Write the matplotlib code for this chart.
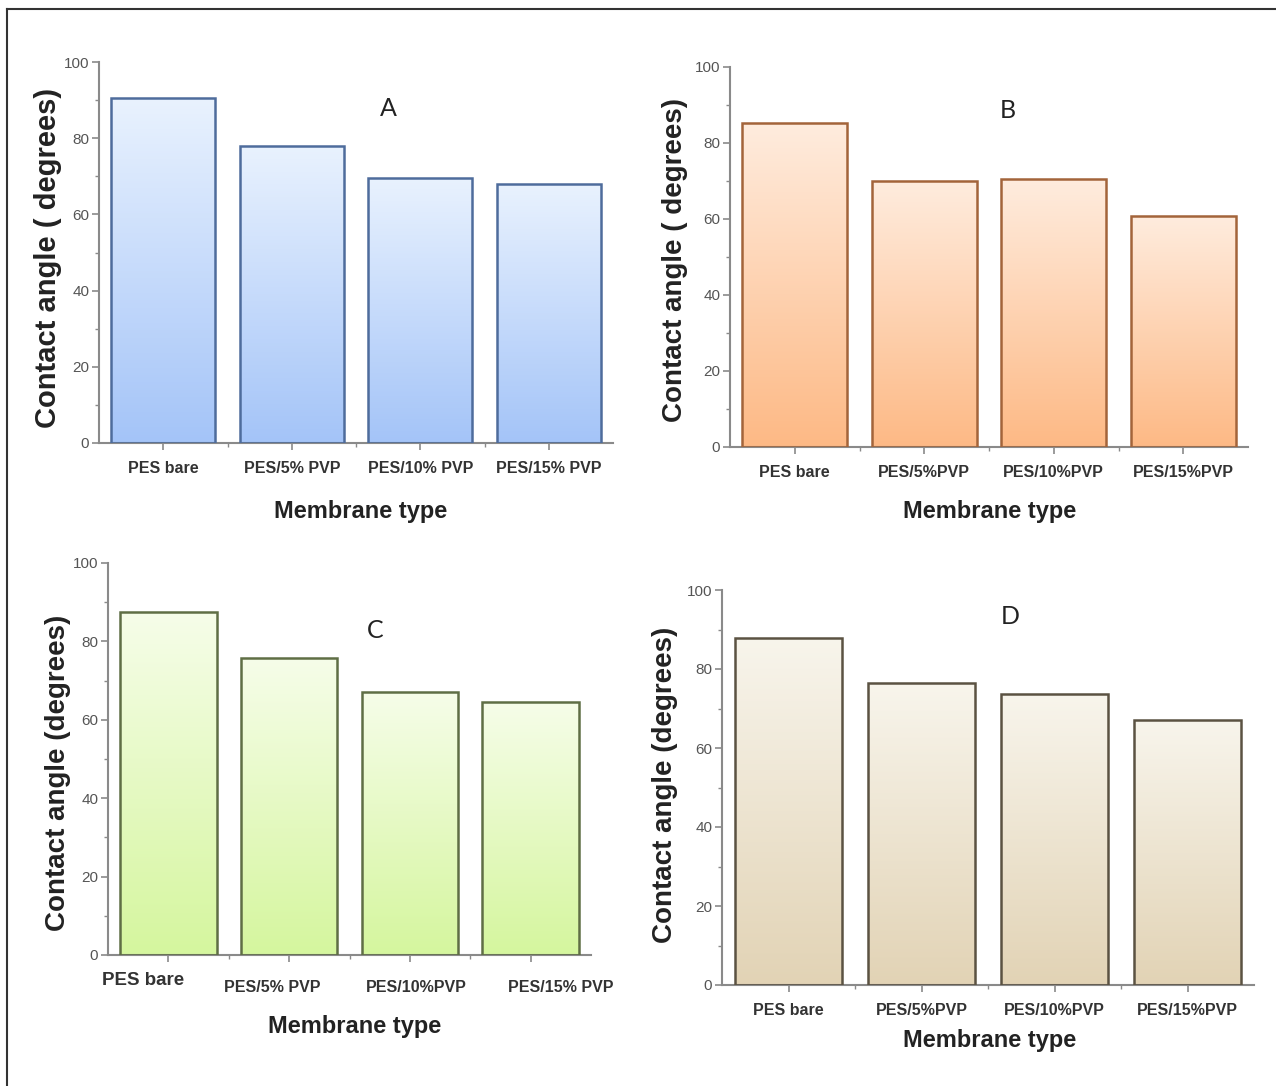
import numpy as np
import matplotlib
matplotlib.use("Agg")
import matplotlib.pyplot as plt
from matplotlib.colors import LinearSegmentedColormap
from matplotlib.lines import Line2D
from matplotlib.ticker import MultipleLocator, FixedLocator

# ---------------- data ----------------
labels_A = ["PES bare", "PES/5% PVP", "PES/10% PVP", "PES/15% PVP"]
values_A = [90.5, 78.0, 69.6, 68.0]

labels_B = ["PES bare", "PES/5%PVP", "PES/10%PVP", "PES/15%PVP"]
values_B = [85.3, 70.0, 70.4, 60.8]

labels_C = ["PES bare", "PES/5% PVP", "PES/10%PVP", "PES/15% PVP"]
values_C = [87.5, 75.7, 67.1, 64.6]

labels_D = ["PES bare", "PES/5%PVP", "PES/10%PVP", "PES/15%PVP"]
values_D = [87.9, 76.4, 73.7, 67.0]

ylabel_AB = "Contact angle ( degrees)"
ylabel_CD = "Contact angle (degrees)"
xlabel = "Membrane type"

W, H = 1276, 1086
fig = plt.figure(figsize=(W / 100, H / 100), dpi=100)
plt.rcParams["font.family"] = ["Liberation Sans", "DejaVu Sans"]

def fx(px):
    return px / W

def fy(py):
    return 1 - py / H

AXC = "#8a8a8a"

def panel(left, right, top, bottom, values, labels, top_col, bot_col, edge,
          bar_w, letter, letter_xy, ylab, ylab_xy, ylab_fs, xlab_xy,
          custom_labels=None):
    ax = fig.add_axes([fx(left), fy(bottom), fx(right - left), (bottom - top) / H])
    x = np.arange(len(values))
    bars = ax.bar(x, values, width=bar_w, facecolor="none", edgecolor=edge,
                  linewidth=1.8, zorder=3)
    cmap = LinearSegmentedColormap.from_list("g", [bot_col, top_col])
    grad = np.linspace(0, 1, 256).reshape(-1, 1)
    for b in bars:
        x0, w, h = b.get_x(), b.get_width(), b.get_height()
        im = ax.imshow(grad, cmap=cmap, aspect="auto", origin="lower",
                       extent=[x0, x0 + w, 0, h], zorder=2)
        im.set_clip_path(b)
    ax.set_xlim(-0.5, len(values) - 0.5)
    ax.set_ylim(0, 100)
    for s in ["top", "right"]:
        ax.spines[s].set_visible(False)
    for s in ["left", "bottom"]:
        ax.spines[s].set_color(AXC)
        ax.spines[s].set_linewidth(1.5)
    ax.yaxis.set_major_locator(MultipleLocator(20))
    ax.yaxis.set_minor_locator(MultipleLocator(10))
    ax.xaxis.set_major_locator(FixedLocator(x))
    ax.xaxis.set_minor_locator(FixedLocator(x[:-1] + 0.5))
    ax.tick_params(axis="both", which="major", length=5, width=1.2, color=AXC,
                   direction="out")
    ax.tick_params(axis="both", which="minor", length=3, width=1.0, color=AXC,
                   direction="out")
    ax.tick_params(axis="y", labelsize=11, labelcolor="#555555", pad=2)
    if custom_labels is None:
        ax.set_xticklabels(labels, fontsize=11.5, fontweight="bold",
                           color="#333333")
        ax.tick_params(axis="x", pad=8)
    else:
        ax.set_xticklabels([""] * len(labels))
        for i, lab in enumerate(labels):
            dx, yy, fs = custom_labels[i]
            ax.text(x[i] + dx, yy, lab, transform=ax.get_xaxis_transform(),
                    ha="center", va="center", fontsize=fs, fontweight="bold",
                    color="#333333")
    fig.text(fx(letter_xy[0]), fy(letter_xy[1]), letter, fontsize=18,
             family="Lato", color="#222222", ha="center", va="center")
    fig.text(fx(ylab_xy[0]), fy(ylab_xy[1]), ylab, rotation=90, fontsize=ylab_fs,
             fontweight="bold", color="#222222", ha="center", va="center")
    fig.text(fx(xlab_xy[0]), fy(xlab_xy[1]), xlabel, fontsize=17,
             fontweight="bold", color="#222222", ha="center", va="center")
    return ax

# Panel A (blue)
panel(99, 613, 62, 443, values_A, labels_A, "#E9F2FE", "#A4C4F8", "#4E6C9C",
      0.81, "A", (388, 108), ylabel_AB, (48, 258), 21, (361, 511))

# Panel B (orange)
panel(730, 1248, 67, 447, values_B, labels_B, "#FFECDE", "#FDB985", "#A3643A",
      0.81, "B", (1008, 110), ylabel_AB, (675, 260), 20, (990, 511))

# Panel C (green)
panel(108, 591, 563, 955, values_C, labels_C, "#F6FDE9", "#D5F69E", "#5F6E45",
      0.80, "C", (375, 630), ylabel_CD, (58, 773), 20, (355, 1027),
      custom_labels=[(-0.21, -0.066, 13.5), (-0.14, -0.084, 11.5),
                     (0.05, -0.084, 11.5), (0.25, -0.084, 11.5)])

# Panel D (beige)
panel(722, 1254, 590, 985, values_D, labels_D, "#F8F5EC", "#E2D3B5", "#5B5242",
      0.80, "D", (1010, 617), ylabel_CD, (665, 785), 20, (990, 1040))

# outer frame (left and top edges)
fig.add_artist(Line2D([fx(7), fx(7)], [fy(9), 0], transform=fig.transFigure,
                      color="#333333", linewidth=1.5))
fig.add_artist(Line2D([fx(7), 1], [fy(9), fy(9)], transform=fig.transFigure,
                      color="#333333", linewidth=1.5))

fig.savefig("out.png", dpi=100, facecolor="white")
